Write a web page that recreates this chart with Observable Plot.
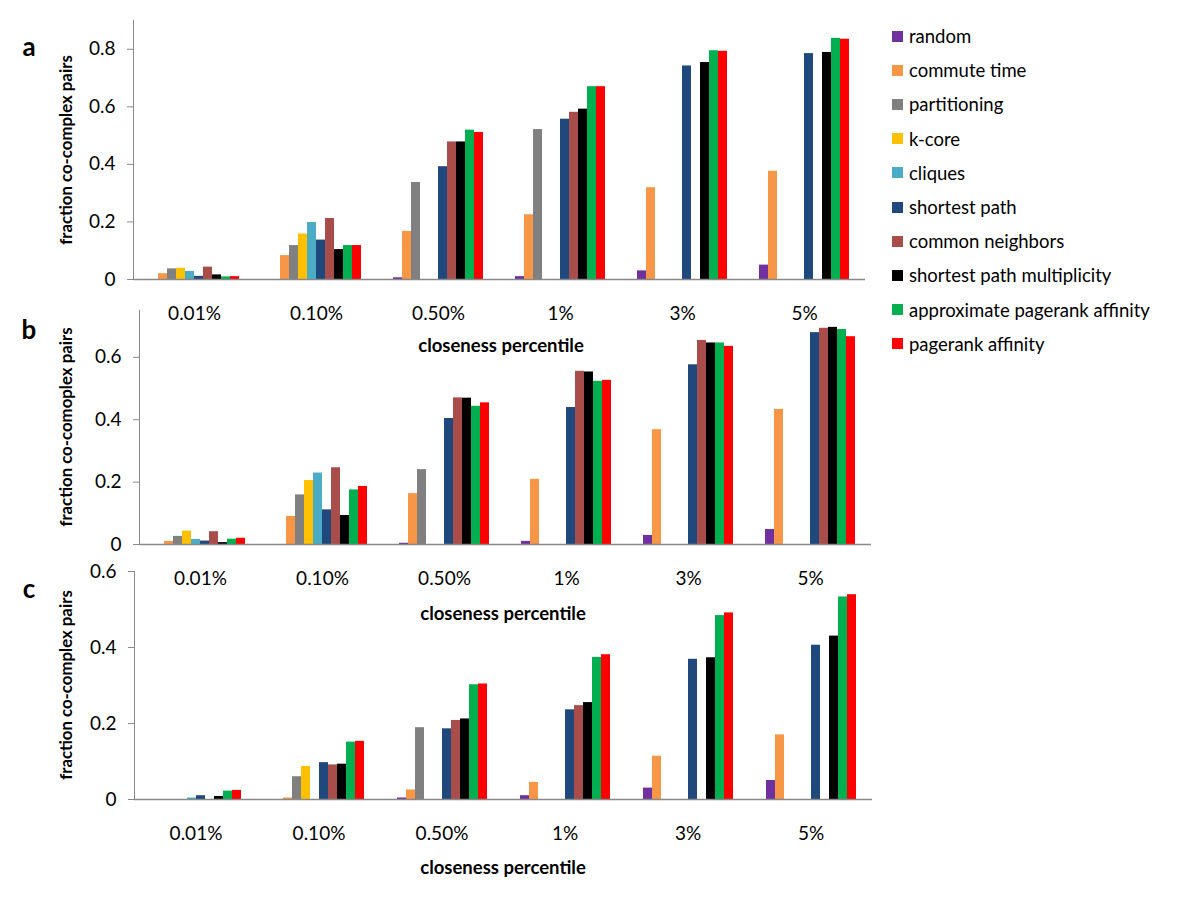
<!DOCTYPE html>
<html><head><meta charset="utf-8">
<script src="https://cdn.jsdelivr.net/npm/d3@7"></script>
<script src="https://cdn.jsdelivr.net/npm/@observablehq/plot@0.6"></script>
<style>
body{margin:0;background:#fff;font-family:Lato,"Open Sans",sans-serif;}
#root{position:relative;width:1200px;height:900px;overflow:hidden;background:#fff;}
.panel{position:absolute;left:0;}
.panel svg{display:block;overflow:visible;}
#root svg text{fill:#000;}
.t{position:absolute;white-space:nowrap;color:#000;font-weight:bold;}
.ytitle{transform:translate(-50%,-50%) rotate(-90deg);font-size:16.8px;}
.xtitle{transform:translate(-50%,-50%);font-size:18.5px;}
.letter{font-size:26px;transform:translate(-50%,-50%);}
.leg{position:absolute;left:892px;font-size:18.5px;white-space:nowrap;display:flex;align-items:center;transform:translateY(-50%);}
.leg span.sw{display:inline-block;width:11px;height:11px;margin-right:6px;}
</style></head>
<body><div id="root"></div>
<script>
const groups = ["0.01%","0.10%","0.50%","1%","3%","5%"];
const methods = ["random","commute time","partitioning","k-core","cliques","shortest path","common neighbors","shortest path multiplicity","approximate pagerank affinity","pagerank affinity"];
const colors = ["#7030a0","#f79646","#808080","#ffc000","#4bacc6","#1f497d","#a94d4b","#000000","#00b050","#ff0000"];
const yTicksA = [0,0.2,0.4,0.6,0.8];
const yTicksB = [0,0.2,0.4,0.6];
const yTicksC = [0,0.2,0.4,0.6];
const yTitleA = "fraction co-complex pairs";
const yTitleB = "fraction co-comoplex pairs";
const yTitleC = "fraction co-complex pairs";
const xTitle = "closeness percentile";
// rows = groups, columns = methods
const valuesA = [
 [0,0.020,0.037,0.039,0.028,0.011,0.043,0.016,0.009,0.010],
 [0,0.083,0.118,0.158,0.198,0.137,0.212,0.104,0.118,0.118],
 [0.006,0.167,0.337,0,0,0.392,0.478,0.478,0.519,0.511],
 [0.010,0.225,0.521,0,0,0.557,0.581,0.592,0.670,0.670],
 [0.030,0.319,0,0,0,0.742,0,0.754,0.795,0.793],
 [0.050,0.376,0,0,0,0.785,0,0.789,0.838,0.835]
];
const valuesB = [
 [0,0.010,0.026,0.043,0.016,0.011,0.041,0.006,0.017,0.020],
 [0,0.090,0.159,0.205,0.229,0.111,0.246,0.093,0.175,0.186],
 [0.004,0.163,0.240,0,0,0.404,0.470,0.469,0.443,0.454],
 [0.010,0.209,0,0,0,0.439,0.555,0.553,0.523,0.526],
 [0.029,0.368,0,0,0,0.576,0.654,0.646,0.646,0.635],
 [0.048,0.433,0,0,0,0.679,0.693,0.696,0.689,0.666]
];
const valuesC = [
 [0,0,0,0,0.004,0.010,0,0.008,0.022,0.024],
 [0,0.004,0.060,0.087,0,0.097,0.091,0.093,0.151,0.153],
 [0.004,0.025,0.189,0,0,0.186,0.208,0.212,0.302,0.304],
 [0.010,0.045,0,0,0,0.236,0.247,0.255,0.374,0.381],
 [0.030,0.114,0,0,0,0.369,0,0.373,0.484,0.491],
 [0.050,0.170,0,0,0,0.406,0,0.430,0.533,0.539]
];

const root = document.getElementById("root");

function makePanel(values, yMax, yTicks, top, marginLeft, width, baseline) {
  const data = [];
  groups.forEach((g,i)=>methods.forEach((m,j)=>data.push({group:g, method:m, value:values[i][j]})));
  const marginTop = 20, marginBottom = 50;
  const height = baseline - top + marginTop + marginBottom;
  const chart = Plot.plot({
    width, height, marginTop, marginBottom, marginLeft, marginRight: 15,
    style: {background:"transparent", overflow:"visible", fontFamily:"Lato, 'Open Sans', sans-serif", fontSize:"19px", color:"#898989"},
    facet: {data, x:"group"},
    fx: {domain: groups, padding:0, axis:"bottom", label:null, tickSize:0, tickPadding:27},
    x: {domain: methods, axis:null, paddingInner:0, paddingOuter:1.5},
    y: {domain:[0,yMax], ticks:yTicks, tickSize:6, tickPadding:12, line:true, label:null, tickFormat:d=>String(d)},
    color: {domain: methods, range: colors},
    marks: [
      Plot.barY(data, {x:"method", y:"value", fill:"method"}),
      Plot.ruleY([0], {stroke:"#898989", strokeWidth:1.5})
    ]
  });
  const div = document.createElement("div");
  div.className = "panel";
  div.style.top = (top - marginTop) + "px";
  div.appendChild(chart);
  root.appendChild(div);
}

function addText(cls, text, x, y) {
  const d = document.createElement("div");
  d.className = "t " + cls;
  d.style.left = x + "px"; d.style.top = y + "px";
  d.textContent = text;
  root.appendChild(d);
}

makePanel(valuesA, 0.9, yTicksA, 20, 133, 880, 279);
makePanel(valuesB, 0.75, yTicksB, 310, 137, 887, 544);
makePanel(valuesC, 0.6, yTicksC, 571, 133, 887, 799);

addText("letter","a",29,46);
addText("letter","b",29,329);
addText("letter","c",29,588);
addText("ytitle",yTitleA,65,150);
addText("ytitle",yTitleB,65,427);
addText("ytitle",yTitleC,65,685);
addText("xtitle",xTitle,501,345);
addText("xtitle",xTitle,503,613);
addText("xtitle",xTitle,503,867);

methods.forEach((m,i)=>{
  const d = document.createElement("div");
  d.className = "leg";
  d.style.top = (36 + 34.2*i) + "px";
  const sw = document.createElement("span");
  sw.className = "sw"; sw.style.background = colors[i];
  d.appendChild(sw);
  d.appendChild(document.createTextNode(m));
  root.appendChild(d);
});
</script></body></html>
